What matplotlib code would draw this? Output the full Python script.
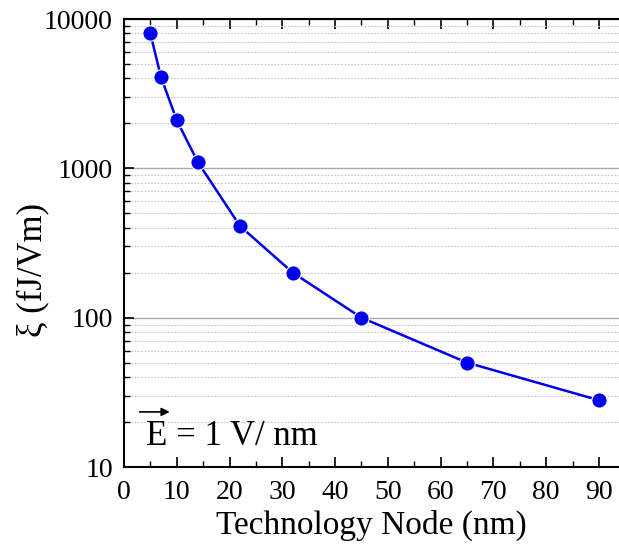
import matplotlib
matplotlib.use('Agg')
import matplotlib.pyplot as plt
from matplotlib.ticker import LogLocator, NullFormatter, MultipleLocator

node = [5, 7, 10, 14, 22, 32, 45, 65, 90]
xi = [8000, 4100, 2100, 1100, 410, 200, 100, 50, 28]

plt.rcParams['font.family'] = ['Liberation Serif', 'DejaVu Serif']

fig = plt.figure(figsize=(6.19, 5.48), dpi=100)
ax = fig.add_axes([0.2003, 0.1478, 0.7997, 0.8175])

ax.plot(node, xi, color='#0000ee', lw=1.8, marker='o', ms=11,
        mfc='#0000ee', mec='white', mew=0.8, zorder=3)

ax.set_yscale('log')
ax.set_ylim(10, 10000)
ax.set_xlim(0, 93.8)
ax.xaxis.set_major_locator(MultipleLocator(10))
ax.xaxis.set_minor_locator(MultipleLocator(5))
ax.yaxis.set_minor_locator(LogLocator(base=10, subs=range(2, 10), numticks=20))
ax.yaxis.set_minor_formatter(NullFormatter())
ax.set_yticks([10, 100, 1000, 10000])
ax.set_yticklabels(['10', '100', '1000', '10000'])

ax.grid(axis='y', which='major', color='#aaaaaa', lw=1.0)
ax.grid(axis='y', which='minor', color='#c4c4c4', lw=0.8, ls=(0, (1.5, 1.5)))

ax.tick_params(axis='both', which='major', direction='in', length=7, width=1.2,
               labelsize=20, top=True, right=False)
ax.tick_params(axis='both', which='minor', direction='in', length=4, width=1.0,
               top=True, right=False)
ax.tick_params(axis='x', pad=9)
ax.tick_params(axis='y', pad=8)

ax.spines['right'].set_visible(False)
for s in ['left', 'bottom', 'top']:
    ax.spines[s].set_linewidth(1.5)

ax.set_xlabel('Technology Node (nm)', fontsize=24, labelpad=4)
ax.set_ylabel('ξ (fJ/Vm)', fontsize=25, labelpad=4)
ax.yaxis.set_label_coords(-0.15, 0.44)

ax.text(0.045, 0.068, 'E = 1 V/ nm', transform=ax.transAxes, fontsize=25,
        ha='left', va='center')
ax.annotate('', xy=(0.098, 0.123), xytext=(0.026, 0.123),
            xycoords='axes fraction', textcoords='axes fraction',
            arrowprops=dict(arrowstyle='-|>', color='black', lw=1.2,
                            mutation_scale=12))

fig.savefig('out.png', dpi=100)
